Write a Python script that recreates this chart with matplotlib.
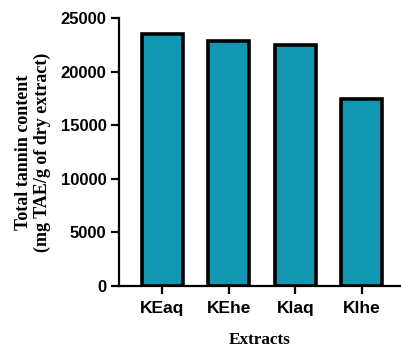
import matplotlib
matplotlib.use("Agg")
import matplotlib.pyplot as plt

categories = ["KEaq", "KEhe", "Klaq", "Klhe"]
tannin = [23500, 22900, 22450, 17450]
yticks = [0, 5000, 10000, 15000, 20000, 25000]

fig = plt.figure(figsize=(4.01, 3.48), dpi=100)
ax = fig.add_axes([119 / 401, 1 - 286 / 348, 1 - 119 / 401, (286 - 18) / 348])

x = range(len(categories))
ax.bar(x, tannin, width=0.62, color="#1197b2", edgecolor="black", linewidth=2.6, zorder=2)

ax.set_xlim(-0.65, 3.59)
ax.set_ylim(0, 25000)
ax.set_yticks(yticks)
ax.set_xticks(list(x))
ax.set_xticklabels(categories)

for s in ["top", "right"]:
    ax.spines[s].set_visible(False)
for s in ["left", "bottom"]:
    ax.spines[s].set_linewidth(1.6)
    ax.spines[s].set_capstyle("projecting")

ax.tick_params(axis="both", width=1.6, length=6, direction="out")
ax.tick_params(axis="x", pad=5)
ax.tick_params(axis="y", pad=3)
for lab in ax.get_yticklabels():
    lab.set_fontfamily("Liberation Sans")
    lab.set_fontweight("bold")
    lab.set_fontsize(12)
for lab in ax.get_xticklabels():
    lab.set_fontfamily("Liberation Sans")
    lab.set_fontweight("bold")
    lab.set_fontsize(12.5)

ax.set_ylabel("Total tannin content\n(mg TAE/g of dry extract)", fontfamily="Liberation Serif",
              fontweight="bold", fontsize=13, labelpad=7, linespacing=1.1)
ax.set_xlabel("Extracts", fontfamily="Liberation Serif", fontweight="bold", fontsize=12.3, labelpad=11)

fig.savefig("out.png", dpi=100)
